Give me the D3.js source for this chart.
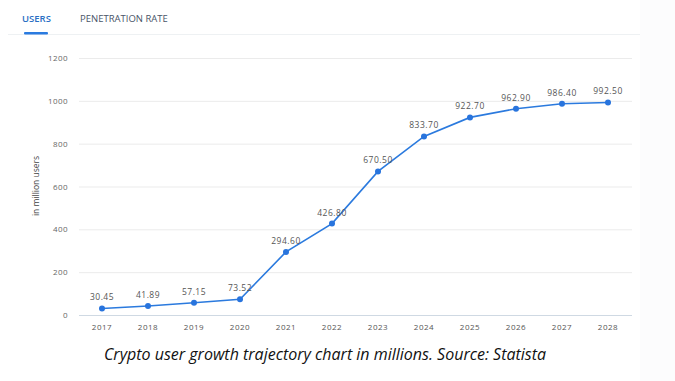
<!DOCTYPE html>
<html>
<head>
<meta charset="utf-8">
<script src="https://cdn.jsdelivr.net/npm/d3@7"></script>
<style>
html,body{margin:0;padding:0;background:#fff;}
svg{display:block;}
</style>
</head>
<body>
<svg id="chart" width="675" height="381"></svg>
<script>
const years = ["2017","2018","2019","2020","2021","2022","2023","2024","2025","2026","2027","2028"];
const users = [30.45, 41.89, 57.15, 73.52, 294.60, 426.80, 670.50, 833.70, 922.70, 962.90, 986.40, 992.50];
const yTicks = [0, 200, 400, 600, 800, 1000, 1200];
const tabs = ["USERS", "PENETRATION RATE"];
const caption = "Crypto user growth trajectory chart in millions. Source: Statista";
const yLabel = "in million users";

const svg = d3.select("#chart");
const font = "'Open Sans', 'Noto Sans', sans-serif";

// right side faint panel
svg.append("rect").attr("x", 640).attr("y", 0).attr("width", 35).attr("height", 381).attr("fill", "#fcfcfd");

// tabs
svg.append("line").attr("x1", 8).attr("x2", 640).attr("y1", 34.5).attr("y2", 34.5).attr("stroke", "#eef1f3").attr("stroke-width", 1);
svg.append("text").attr("x", 22).attr("y", 22).text(tabs[0])
  .attr("font-family", font).attr("font-size", 9.5).attr("font-weight", 600).attr("fill", "#2a6fc4");
svg.append("rect").attr("x", 24).attr("y", 32).attr("width", 24).attr("height", 2.5).attr("rx", 1).attr("fill", "#2a7be0");
svg.append("text").attr("x", 80).attr("y", 22).text(tabs[1])
  .attr("font-family", font).attr("font-size", 9.5).attr("fill", "#4a5568");

const x = d3.scaleBand().domain(years).range([79, 631]).padding(0);
const y = d3.scaleLinear().domain([0, 1200]).range([315, 58]);

// gridlines
const yAxis = d3.axisLeft(y).tickValues(yTicks).tickSize(-(632 - 79)).tickPadding(11).tickFormat(d3.format("d"));
const gy = svg.append("g").attr("transform", "translate(79,0)").call(yAxis);
gy.select(".domain").remove();
gy.selectAll(".tick line").attr("stroke", d => d === 0 ? "#cfd9e3" : "#ebebeb").attr("stroke-width", 1);
gy.selectAll(".tick text").attr("font-family", font).attr("font-size", 8).attr("letter-spacing", "0.4px").attr("fill", "#666");

// x axis
const xAxis = d3.axisBottom(x).tickSize(0).tickPadding(9);
const gx = svg.append("g").attr("transform", "translate(0,315)").call(xAxis);
gx.select(".domain").remove();
gx.selectAll(".tick text").attr("font-family", font).attr("font-size", 8).attr("letter-spacing", "0.5px").attr("fill", "#555");

// y label
svg.append("text").attr("transform", "translate(39,186) rotate(-90)").attr("text-anchor", "middle")
  .attr("font-family", font).attr("font-size", 8.5).attr("fill", "#444").text(yLabel);

const data = years.map((yr, i) => ({yr, v: users[i]}));
const cx = d => x(d.yr) + x.bandwidth() / 2;

const line = d3.line().x(cx).y(d => y(d.v));
svg.append("path").datum(data).attr("d", line).attr("fill", "none").attr("stroke", "#2b7ade").attr("stroke-width", 1.6);

svg.selectAll("circle.pt").data(data).join("circle").attr("class", "pt")
  .attr("cx", cx).attr("cy", d => y(d.v)).attr("r", 3).attr("fill", "#2874dd");

svg.selectAll("text.val").data(data).join("text").attr("class", "val")
  .attr("x", cx).attr("y", d => y(d.v) - 8).attr("text-anchor", "middle")
  .attr("font-family", font).attr("font-size", 8.5).attr("letter-spacing", "0.5px").attr("fill", "#555")
  .text(d => d3.format(".2f")(d.v));

// caption
svg.append("text").attr("x", 325).attr("y", 360).attr("text-anchor", "middle")
  .attr("font-family", font).attr("font-style", "italic").attr("font-size", 16).attr("fill", "#111")
  .text(caption);
</script>
</body>
</html>
